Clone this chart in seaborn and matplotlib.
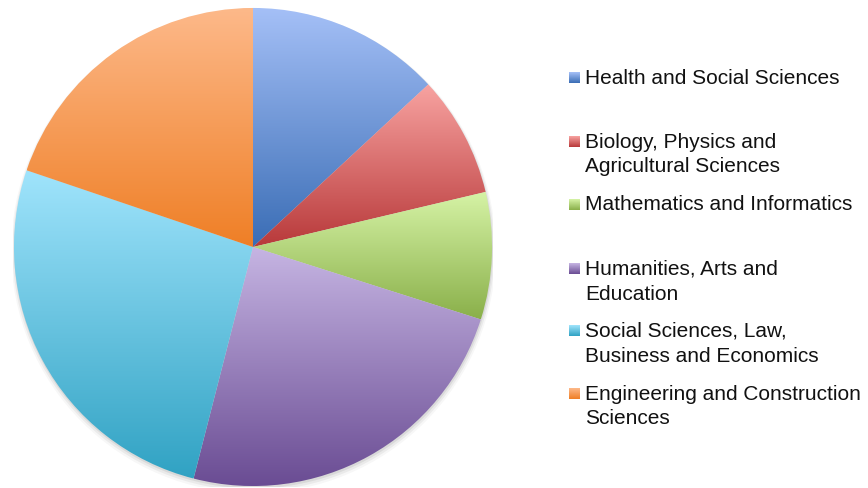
import numpy as np
import matplotlib
matplotlib.use("Agg")
import matplotlib.pyplot as plt
from matplotlib.colors import LinearSegmentedColormap
from matplotlib.patches import Circle
import seaborn as sns

sns.set_theme(style="white")
plt.rcParams["font.family"] = ["Liberation Sans", "DejaVu Sans"]

# Share of students by field of study (percent)
categories = [
    "Health and Social Sciences",
    "Biology, Physics and\nAgricultural Sciences",
    "Mathematics and Informatics",
    "Humanities, Arts and\nEducation",
    "Social Sciences, Law,\nBusiness and Economics",
    "Engineering and Construction\nSciences",
]
shares = [13.1, 8.2, 8.6, 24.1, 26.2, 19.8]

# light (top) and dark (bottom) ends of each slice's gradient
top_colors = ["#A5C0F7", "#F8A3A1", "#D6F3A6", "#C6B5E3", "#A0E4FC", "#FDB98A"]
bottom_colors = ["#3A6DB5", "#B8393A", "#8AB04A", "#6A4C93", "#30A2C3", "#EF7F26"]

W, H, DPI = 868, 488, 100
fig = plt.figure(figsize=(W / DPI, H / DPI), dpi=DPI)
fig.patch.set_facecolor("white")

# pie axes: centre at (253, 247) px, radius 1 data unit = 240 px
cx, cy, R = 253, 247, 240
ax = fig.add_axes([(cx - R) / W, (H - cy - R) / H, 2 * R / W, 2 * R / H])
ax.set_xlim(-1, 1)
ax.set_ylim(-1, 1)
ax.set_aspect("equal")
ax.axis("off")

# soft drop shadow under the disc, heavier towards the bottom
for r, dy, a in [(1.010, -0.016, 0.03), (1.004, -0.012, 0.05), (0.998, -0.008, 0.07)]:
    ax.add_patch(Circle((0.002, dy), r, facecolor="#000000", alpha=a,
                        edgecolor="none", zorder=0))

wedges, _ = ax.pie(shares, startangle=90, counterclock=False, radius=0.996,
                   wedgeprops=dict(edgecolor="none", linewidth=0))

grad = np.linspace(0, 1, 256).reshape(-1, 1)
for w, c_top, c_bot in zip(wedges, top_colors, bottom_colors):
    w.set_facecolor("none")
    ext = w.get_path().get_extents()
    cmap = LinearSegmentedColormap.from_list("g", [c_bot, c_top])
    im = ax.imshow(grad, cmap=cmap, origin="lower", aspect="auto",
                   extent=[ext.x0, ext.x1, ext.y0, ext.y1], zorder=2,
                   interpolation="bilinear")
    im.set_clip_path(w)
ax.set_xlim(-1, 1)
ax.set_ylim(-1, 1)

# legend drawn in pixel coordinates on an overlay axes
lax = fig.add_axes([0, 0, 1, 1])
lax.set_xlim(0, W)
lax.set_ylim(H, 0)
lax.axis("off")
lax.patch.set_alpha(0)

entry_y = [78, 142, 205, 269, 331, 394]
line_gap = 25
mgrad = np.linspace(0, 1, 64).reshape(-1, 1)
for label, y, c_top, c_bot in zip(categories, entry_y, top_colors, bottom_colors):
    cmap = LinearSegmentedColormap.from_list("m", [c_top, c_bot])
    lax.imshow(mgrad, cmap=cmap, aspect="auto", origin="upper",
               extent=[569, 580, y + 5, y - 6], interpolation="bilinear")
    for k, line in enumerate(label.split("\n")):
        lax.text(585, y + k * line_gap, line, fontsize=15, color="#111111",
                 va="center", ha="left")
lax.set_xlim(0, W)
lax.set_ylim(H, 0)

fig.savefig("out.png", dpi=DPI, facecolor="white")
